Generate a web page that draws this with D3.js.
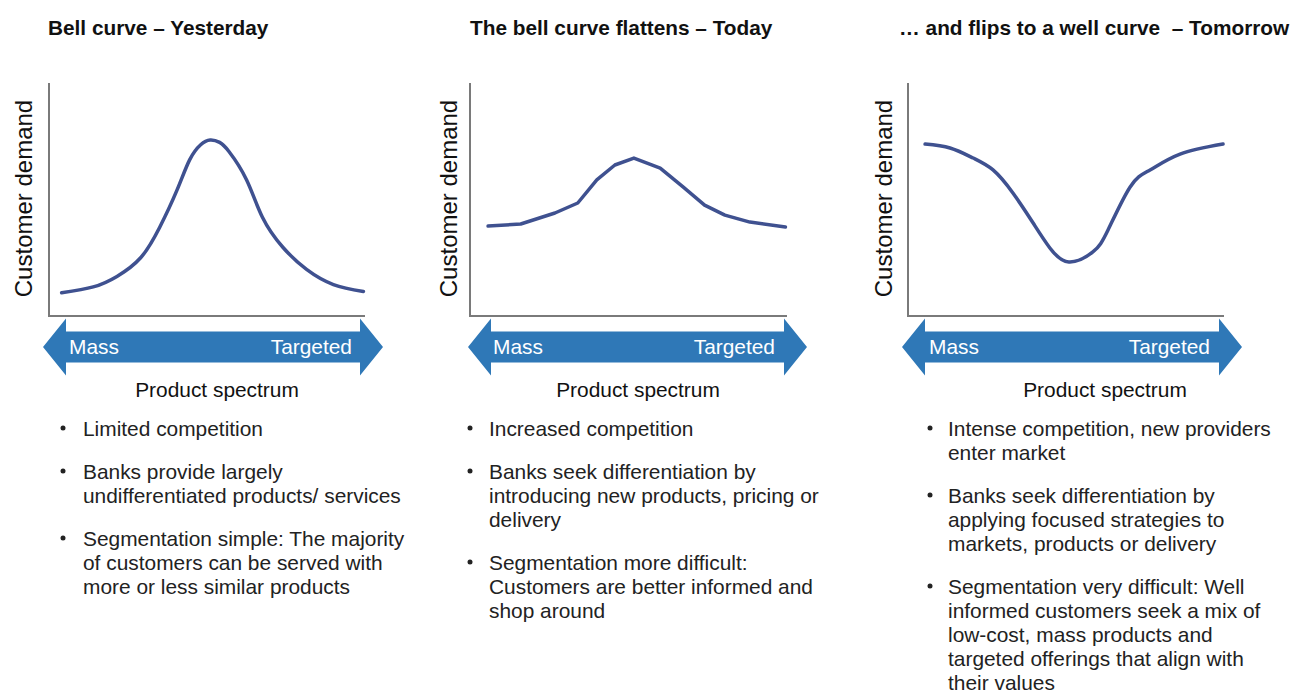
<!DOCTYPE html>
<html lang="en">
<head>
	<meta charset="UTF-8">
	<title>Bell curve to well curve</title>
	<script src="https://d3js.org/d3.v7.min.js"></script>
	<style>
		body { margin: 0; background: #fff; }
		text { font-family: "Liberation Sans", Arial, sans-serif; }
	</style>
</head>
<body>
<div id="chart"></div>
<script>
	// titles of the three panels
	var titles = ["Bell curve \u2013 Yesterday", "The bell curve flattens \u2013 Today", "\u2026 and flips to a well curve  \u2013 Tomorrow"];
	var yLabel = "Customer demand";
	var xLabel = "Product spectrum";
	var spectrumEnds = ["Mass", "Targeted"];

	// curves: position on the product spectrum (0-100) and demand (0-100)
	var yesterdayX = [4, 14, 21.5, 29, 35, 40.5, 44.5, 48, 51, 54, 57, 62.5, 67.5, 74, 81.5, 90, 99.5];
	var yesterdayY = [10, 12.5, 17, 25, 38, 54, 67, 73.5, 75.5, 74.5, 70.5, 58.5, 42.5, 29.5, 20, 13.5, 10.5];

	var todayX = [5.7, 16, 26.8, 34, 40, 45.7, 51.7, 60, 67.2, 74, 80.4, 88.3, 99.5];
	var todayY = [38.6, 39.5, 44.2, 48.5, 58.4, 64.8, 67.8, 63.5, 55.4, 47.6, 43.3, 40.3, 38.2];

	var tomorrowX = [5.4, 13.3, 20.6, 26.9, 33.2, 39.6, 44.9, 50.9, 58.5, 63.3, 70.3, 76.6, 86.1, 99.7];
	var tomorrowY = [73.8, 72.1, 67.8, 62.7, 52.8, 39.9, 29.2, 23.2, 27.5, 36.9, 55.4, 62.7, 69.5, 73.8];

	// bullet notes, one array of lines per bullet
	var yesterdayNotes = [
		["Limited competition"],
		["Banks provide largely", "undifferentiated products/ services"],
		["Segmentation simple: The majority", "of customers can be served with", "more or less similar products"]
	];
	var todayNotes = [
		["Increased competition"],
		["Banks seek differentiation by", "introducing new products, pricing or", "delivery"],
		["Segmentation more difficult:", "Customers are better informed and", "shop around"]
	];
	var tomorrowNotes = [
		["Intense competition, new providers", "enter market"],
		["Banks seek differentiation by", "applying focused strategies to", "markets, products or delivery"],
		["Segmentation very difficult: Well", "informed customers seek a mix of", "low-cost, mass products and", "targeted offerings that align with", "their values"]
	];

	var curves = [
		{x: yesterdayX, y: yesterdayY, smooth: true},
		{x: todayX, y: todayY, smooth: false},
		{x: tomorrowX, y: tomorrowY, smooth: true}
	];
	var notes = [yesterdayNotes, todayNotes, tomorrowNotes];

	// layout of each panel
	var panels = [
		{x0: 49, x1: 365, aL: 43, aR: 383, mass: 69, targ: 352, spec: 217, ylab: 32, title: 48, dot: 63, text: 83},
		{x0: 470, x1: 787, aL: 468, aR: 807, mass: 493, targ: 775, spec: 638, ylab: 457, title: 470, dot: 470, text: 489},
		{x0: 908, x1: 1224, aL: 902, aR: 1242, mass: 929, targ: 1210, spec: 1105, ylab: 892, title: 899, dot: 930, text: 948}
	];

	var width = 1293, height = 697;
	var axisTop = 83, axisBottom = 316;
	var arrowY = 347, headH = 28.5, shaftH = 15.5, headW = 23;
	var lineH = 24, paraGap = 19, firstLine = 436;
	var bodySize = '20.9px';

	var svg = d3.select('#chart')
		.append('svg')
		.attr('width', width)
		.attr('height', height);

	panels.forEach(function(p, i){
		var g = svg.append('g');

		var x = d3.scaleLinear().domain([0, 100]).range([p.x0, p.x1]);
		var y = d3.scaleLinear().domain([0, 100]).range([axisBottom, axisTop]);

		// title
		g.append('text')
			.attr('x', p.title)
			.attr('y', 35)
			.attr('font-size', '20.8px')
			.attr('font-weight', 'bold')
			.attr('fill', '#111')
			.style('white-space', 'pre')
			.text(titles[i]);

		// axes (no ticks)
		g.append('path')
			.attr('d', 'M' + x.range()[0] + ',' + y.range()[1] + 'V' + y.range()[0] + 'H' + x.range()[1])
			.attr('fill', 'none')
			.attr('stroke', '#7a7a7a')
			.attr('stroke-width', 2);

		// y label
		g.append('text')
			.attr('transform', 'translate(' + p.ylab + ',' + ((axisTop + axisBottom) / 2 - 1) + ') rotate(-90)')
			.attr('text-anchor', 'middle')
			.attr('font-size', '24px')
			.attr('fill', '#111')
			.text(yLabel);

		// demand curve
		var c = curves[i];
		var pts = c.x.map(function(d, k){ return [d, c.y[k]]; });
		var line = d3.line()
			.x(function(d){ return x(d[0]); })
			.y(function(d){ return y(d[1]); })
			.curve(c.smooth ? d3.curveNatural : d3.curveLinear);
		g.append('path')
			.datum(pts)
			.attr('d', line)
			.attr('fill', 'none')
			.attr('stroke', '#3f5190')
			.attr('stroke-width', 3.5)
			.attr('stroke-linejoin', 'round')
			.attr('stroke-linecap', 'round');

		// double arrow
		var aL = p.aL, aR = p.aR;
		var arrow = [
			[aL, arrowY], [aL + headW, arrowY - headH], [aL + headW, arrowY - shaftH],
			[aR - headW, arrowY - shaftH], [aR - headW, arrowY - headH], [aR, arrowY],
			[aR - headW, arrowY + headH], [aR - headW, arrowY + shaftH],
			[aL + headW, arrowY + shaftH], [aL + headW, arrowY + headH]
		];
		g.append('polygon')
			.attr('points', arrow.map(function(d){ return d.join(','); }).join(' '))
			.attr('fill', '#2f78b7');

		g.append('text')
			.attr('x', p.mass)
			.attr('y', arrowY + 7)
			.attr('font-size', bodySize)
			.attr('fill', '#fff')
			.text(spectrumEnds[0]);
		g.append('text')
			.attr('x', p.targ)
			.attr('y', arrowY + 7)
			.attr('text-anchor', 'end')
			.attr('font-size', bodySize)
			.attr('fill', '#fff')
			.text(spectrumEnds[1]);

		// x label
		g.append('text')
			.attr('x', p.spec)
			.attr('y', 397)
			.attr('text-anchor', 'middle')
			.attr('font-size', bodySize)
			.attr('fill', '#111')
			.text(xLabel);

		// bullet notes
		var yy = firstLine;
		notes[i].forEach(function(para){
			g.append('circle')
				.attr('cx', p.dot)
				.attr('cy', yy - 8)
				.attr('r', 2.5)
				.attr('fill', '#222');
			para.forEach(function(t, k){
				g.append('text')
					.attr('x', p.text)
					.attr('y', yy + k * lineH)
					.attr('font-size', bodySize)
					.attr('fill', '#222')
					.text(t);
			});
			yy += para.length * lineH + paraGap;
		});
	});
</script>
</body>
</html>
